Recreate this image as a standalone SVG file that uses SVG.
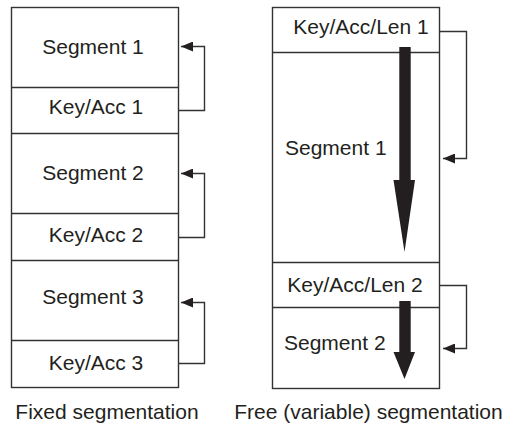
<svg xmlns="http://www.w3.org/2000/svg" width="508" height="426" viewBox="0 0 508 426">
<style>
  .box { fill: #ffffff; stroke: #333333; stroke-width: 1.4; }
  .div { stroke: #333333; stroke-width: 1.4; fill: none; }
  .lbl { font-family: "Liberation Sans", Arial, sans-serif; font-size: 21px; fill: #231f20; }
  .mid { text-anchor: middle; }
  .conn { fill: none; stroke: #333333; stroke-width: 1.4; }
  .fat { fill: #231f20; stroke: none; }
</style>
<defs>
  <marker id="ah" markerWidth="13" markerHeight="10" refX="12" refY="5" orient="auto" markerUnits="userSpaceOnUse">
    <path d="M0,0 L12,5 L0,10 Z" fill="#231f20"/>
  </marker>
</defs>
<rect width="508" height="426" fill="#ffffff"/>

<g id="fixed">
  <rect class="box" x="11.5" y="7.5" width="167" height="380"/>
  <g id="seg1"><text class="lbl mid" x="93" y="54">Segment 1</text></g>
  <g id="key1"><line class="div" x1="11.5" y1="87.5" x2="178.5" y2="87.5"/><text class="lbl mid" x="96" y="114">Key/Acc 1</text></g>
  <g id="seg2"><line class="div" x1="11.5" y1="133.5" x2="178.5" y2="133.5"/><text class="lbl mid" x="93" y="180">Segment 2</text></g>
  <g id="key2"><line class="div" x1="11.5" y1="213.5" x2="178.5" y2="213.5"/><text class="lbl mid" x="96" y="242">Key/Acc 2</text></g>
  <g id="seg3"><line class="div" x1="11.5" y1="260.5" x2="178.5" y2="260.5"/><text class="lbl mid" x="93" y="304">Segment 3</text></g>
  <g id="key3"><line class="div" x1="11.5" y1="340.5" x2="178.5" y2="340.5"/><text class="lbl mid" x="96" y="370">Key/Acc 3</text></g>
</g>

<g id="free">
  <rect class="box" x="272.5" y="7.5" width="167" height="381"/>
  <g id="kal1"><text class="lbl mid" x="361" y="34">Key/Acc/Len 1</text></g>
  <g id="fseg1"><line class="div" x1="272.5" y1="52.5" x2="439.5" y2="52.5"/><text class="lbl" x="285" y="155">Segment 1</text></g>
  <g id="kal2"><line class="div" x1="272.5" y1="262.5" x2="439.5" y2="262.5"/><text class="lbl mid" x="355" y="292">Key/Acc/Len 2</text></g>
  <g id="fseg2"><line class="div" x1="272.5" y1="307.5" x2="439.5" y2="307.5"/><text class="lbl" x="284" y="350">Segment 2</text></g>
</g>

<g id="connectors">
  <path class="conn" d="M178.5,110.5 H204.5 V46.5 H181" marker-end="url(#ah)"/>
  <path class="conn" d="M178.5,237.5 H204.5 V173.5 H181" marker-end="url(#ah)"/>
  <path class="conn" d="M178.5,363.5 H204.5 V302.5 H181" marker-end="url(#ah)"/>
  <path class="conn" d="M439.5,31.5 H466.5 V158.5 H443" marker-end="url(#ah)"/>
  <path class="conn" d="M439.5,285.5 H466.5 V348.5 H443" marker-end="url(#ah)"/>
  <path class="fat" d="M399.3,47 H410.7 V180 H415 L404.5,252 L393.5,180 H399.3 Z"/>
  <path class="fat" d="M399.3,301 H410.7 V352 H415 L404.5,379 L393.5,352 H399.3 Z"/>
</g>

<g id="captions">
  <text class="lbl mid" x="107" y="419">Fixed segmentation</text>
  <text class="lbl mid" x="368.5" y="419">Free (variable) segmentation</text>
</g>
</svg>
